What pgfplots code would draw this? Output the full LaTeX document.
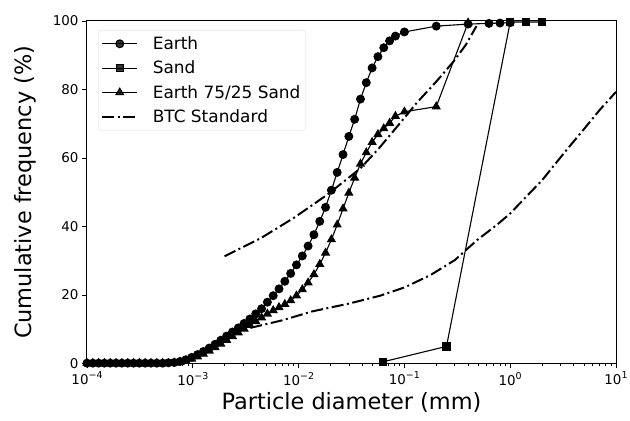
\documentclass[border=0pt]{standalone}
\usepackage{fontspec}
\setmainfont{DejaVu Sans}
\usepackage{pgfplots}
\pgfplotsset{compat=1.18}
\usepackage{pgfplotstable}

\newcommand{\pw}[1]{10\raisebox{0.45em}{\fontsize{9.5}{10}\selectfont #1}}

\pgfplotstableread{
x y
1.000e-4 0.1
1.135e-4 0.1
1.288e-4 0.1
1.462e-4 0.1
1.660e-4 0.1
1.884e-4 0.1
2.138e-4 0.1
2.427e-4 0.1
2.754e-4 0.1
3.126e-4 0.1
3.548e-4 0.1
4.027e-4 0.1
4.571e-4 0.1
5.188e-4 0.1
5.888e-4 0.2
6.683e-4 0.3
7.586e-4 0.6
8.610e-4 1.1
9.772e-4 1.8
1.109e-3 2.6
1.259e-3 3.5
1.429e-3 4.5
1.622e-3 5.6
1.841e-3 6.8
2.089e-3 8.0
2.371e-3 9.2
2.692e-3 10.4
3.055e-3 11.7
3.467e-3 13.0
3.936e-3 14.5
4.467e-3 16.0
5.070e-3 17.9
5.754e-3 19.8
6.531e-3 21.8
7.413e-3 24.0
8.414e-3 26.3
9.550e-3 28.8
1.084e-2 31.4
1.230e-2 34.3
1.396e-2 37.6
1.585e-2 41.5
1.799e-2 45.6
2.042e-2 50.6
2.317e-2 55.8
2.630e-2 61.0
2.985e-2 66.3
3.388e-2 71.3
3.846e-2 77.2
4.365e-2 82.0
4.955e-2 86.3
5.623e-2 89.6
6.383e-2 92.2
7.244e-2 94.2
8.222e-2 95.6
0.1 96.8
0.2 98.5
0.4 99.1
0.63 99.3
0.8 99.4
1.0 99.5
}\earth

\pgfplotstableread{
x y
0.063 0.5
0.25 5.0
1.0 99.7
1.4 99.7
2.0 99.7
}\sand

\pgfplotstableread{
x y
1.000e-4 0.1
1.135e-4 0.1
1.288e-4 0.1
1.462e-4 0.1
1.660e-4 0.1
1.884e-4 0.1
2.138e-4 0.1
2.427e-4 0.1
2.754e-4 0.1
3.126e-4 0.1
3.548e-4 0.1
4.027e-4 0.1
4.571e-4 0.1
5.188e-4 0.1
5.888e-4 0.1
6.683e-4 0.2
7.586e-4 0.4
8.610e-4 0.8
9.772e-4 1.3
1.109e-3 2.0
1.259e-3 2.8
1.429e-3 3.7
1.622e-3 4.7
1.841e-3 5.7
2.089e-3 6.8
2.371e-3 7.9
2.692e-3 9.0
3.055e-3 10.1
3.467e-3 11.2
3.936e-3 12.3
4.467e-3 13.4
5.070e-3 14.5
5.754e-3 15.5
6.531e-3 16.4
7.413e-3 17.3
8.414e-3 18.4
9.550e-3 19.8
1.084e-2 21.6
1.230e-2 23.6
1.396e-2 26.0
1.585e-2 29.0
1.799e-2 32.3
2.042e-2 36.2
2.317e-2 40.5
2.630e-2 45.2
2.985e-2 49.8
3.388e-2 54.2
3.846e-2 58.3
4.365e-2 61.6
4.955e-2 64.6
5.623e-2 66.9
6.383e-2 68.6
7.244e-2 70.2
8.222e-2 72.2
0.1 73.5
0.2 75.0
0.4 99.5
}\mix

\pgfplotstableread{
x y
0.002 31.3
0.0044 36.6
0.009 42.5
0.0187 49.3
0.0385 57.0
0.0574 62.8
0.0856 69.2
0.13 76.0
0.2 82.3
0.29 88.1
0.38 93.0
0.48 98.5
}\btcup

\pgfplotstableread{
x y
0.0035 10.4
0.007 12.6
0.0134 15.2
0.03 17.5
0.059 19.8
0.1 22.2
0.176 25.8
0.3 30.2
0.485 36.0
0.75 40.5
1.0 43.8
1.33 47.8
2.0 53.5
3.42 62.4
5.0 68.5
7.0 74.0
10 79.3
}\btclow

\begin{document}
\begin{tikzpicture}
\begin{axis}[
  scale only axis, width=529bp, height=342.5bp,
  xmode=log, xmin=1e-4, xmax=10, ymin=0, ymax=100,
  xtick={1e-4,1e-3,1e-2,1e-1,1,10},
  xticklabels={\pw{−4},\pw{−3},\pw{−2},\pw{−1},\pw{0},\pw{1}},
  minor xtick={2e-4,3e-4,4e-4,5e-4,6e-4,7e-4,8e-4,9e-4,
    2e-3,3e-3,4e-3,5e-3,6e-3,7e-3,8e-3,9e-3,
    2e-2,3e-2,4e-2,5e-2,6e-2,7e-2,8e-2,9e-2,
    0.2,0.3,0.4,0.5,0.6,0.7,0.8,0.9,
    2,3,4,5,6,7,8,9},
  ytick={0,20,40,60,80,100},
  /pgf/number format/assume math mode=true,
  tick align=outside, xtick pos=bottom, ytick pos=left,
  major tick length=5bp, minor tick length=3bp,
  every tick/.style={black, line width=0.8bp},
  ticklabel style={font=\fontsize{13.5}{15}\selectfont},
  label style={font=\fontsize{22.5}{26}\selectfont},
  xlabel={Particle diameter (mm)}, ylabel={Cumulative frequency (\%)},
  ylabel shift=10bp,
  axis line style={line width=1bp},
  legend style={at={(0.021,0.974)}, anchor=north west, draw=black!15,
    rounded corners=3bp, fill=white, fill opacity=0.8, text opacity=1,
    font=\fontsize{17}{20}\selectfont, inner xsep=3bp, inner ysep=4bp,
    row sep=5bp, nodes={inner sep=2.5bp},
    /tikz/every odd column/.append style={column sep=12bp}},
  legend cell align=left,
  legend image code/.code={\draw[mark repeat=2,mark phase=2] plot coordinates {(0bp,0bp) (17.5bp,0bp) (35bp,0bp)};},
]
\addplot[black, line width=1.1bp, mark=*, mark size=3.9bp] table {\earth};
\addlegendentry{Earth}
\addplot[black, line width=1.1bp, mark=square*, mark size=3.6bp] table {\sand};
\addlegendentry{Sand}
\addplot[black, line width=1.1bp, mark=triangle*, mark size=4.3bp] table {\mix};
\addlegendentry{Earth 75/25 Sand}
\addplot[black, line width=2bp, dash pattern=on 12bp off 3.5bp on 2bp off 3.5bp] table {\btcup};
\addlegendentry{BTC Standard}
\addplot[black, line width=2bp, dash pattern=on 12bp off 3.5bp on 2bp off 3.5bp, forget plot] table {\btclow};
\end{axis}
\pgfresetboundingbox
\path[use as bounding box] (current axis.south west) ++(-87bp,-57.5bp) rectangle ++(630bp,421bp);
\end{tikzpicture}
\end{document}
